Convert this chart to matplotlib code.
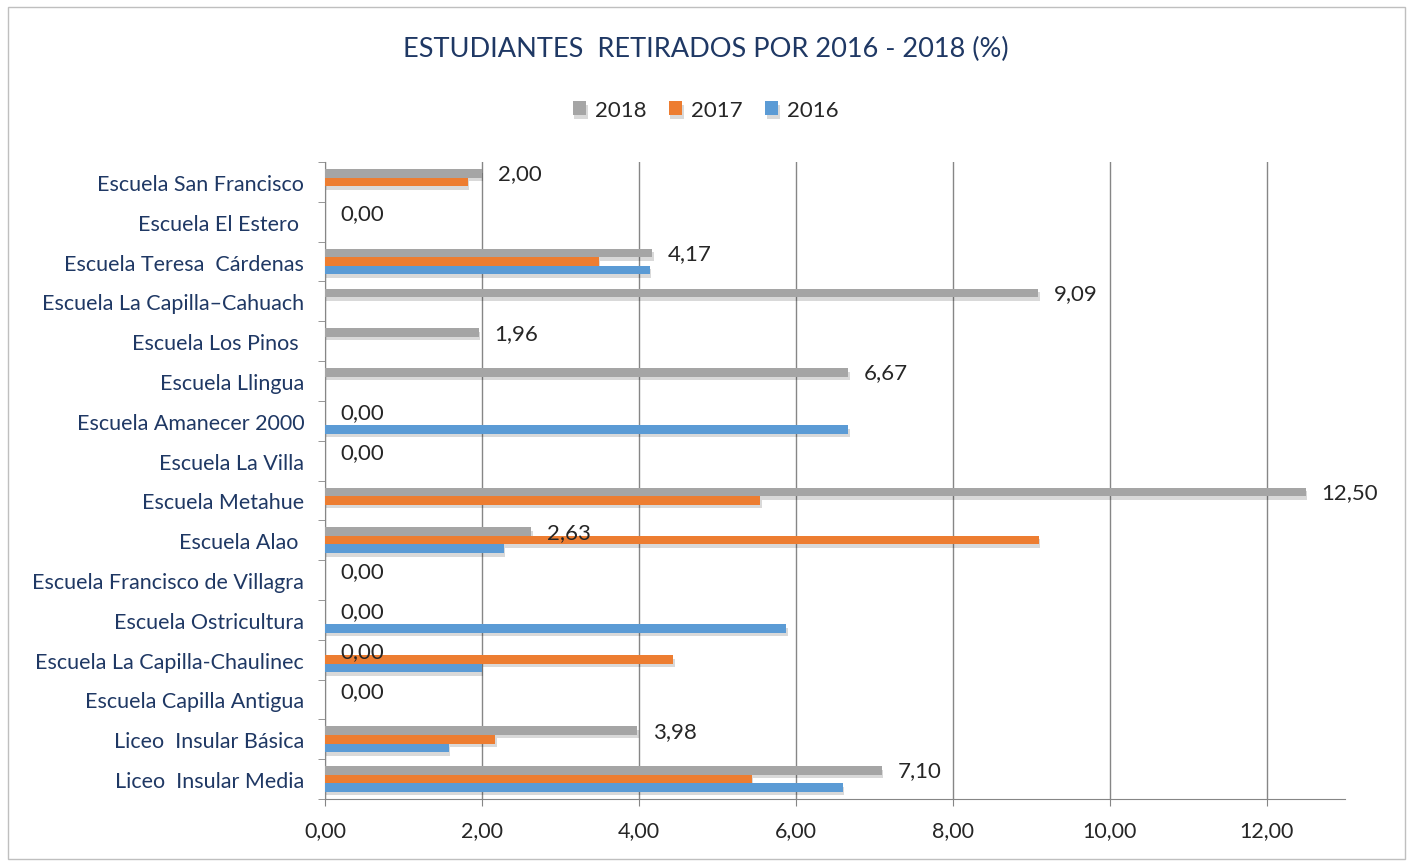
import matplotlib
matplotlib.use("Agg")
import matplotlib.pyplot as plt
import matplotlib.patheffects as pe
from matplotlib.patches import Rectangle
import numpy as np

plt.rcParams['font.family'] = ['Lato', 'DejaVu Sans']

categories = [
    "Escuela San Francisco", "Escuela El Estero ", "Escuela Teresa  Cárdenas",
    "Escuela La Capilla\u2013Cahuach", "Escuela Los Pinos ", "Escuela Llingua",
    "Escuela Amanecer 2000", "Escuela La Villa", "Escuela Metahue",
    "Escuela Alao ", "Escuela Francisco de Villagra", "Escuela Ostricultura",
    "Escuela La Capilla-Chaulinec", "Escuela Capilla Antigua",
    "Liceo  Insular Básica", "Liceo  Insular Media",
]
vals_2018 = [2.00, 0.00, 4.17, 9.09, 1.96, 6.67, 0.00, 0.00, 12.50, 2.63, 0.00, 0.00, 0.00, 0.00, 3.98, 7.10]
vals_2017 = [1.82, 0.00, 3.49, 0.00, 0.00, 0.00, 0.00, 0.00, 5.55, 9.10, 0.00, 0.00, 4.44, 0.00, 2.17, 5.44]
vals_2016 = [0.00, 0.00, 4.14, 0.00, 0.00, 0.00, 6.67, 0.00, 0.00, 2.28, 0.00, 5.88, 2.00, 0.00, 1.58, 6.60]
series = ["2018", "2017", "2016"]
colors = ["#A5A5A5", "#ED7D31", "#5B9BD5"]

navy = "#1F3864"

fig = plt.figure(figsize=(14.12, 8.62), dpi=100)
fig.patches.append(Rectangle((8 / 1412, 2 / 862), 1397 / 1412, 852 / 862,
                             transform=fig.transFigure, fill=False,
                             edgecolor="#BFBFBF", linewidth=1.0))
ax = fig.add_axes([325 / 1412, 1 - 800 / 862, 1020 / 1412, 637 / 862])

y = np.arange(len(categories))
h = 0.215
shadow = [pe.SimplePatchShadow(offset=(1.0, -2.5), shadow_rgbFace="#000000", alpha=0.15), pe.Normal()]
for k, (vals, col, name) in enumerate(zip([vals_2018, vals_2017, vals_2016], colors, series)):
    bars = ax.barh(y + (k - 1) * h, vals, height=h, color=col, label=name, zorder=3)
    for b in bars:
        b.set_path_effects(shadow)

for yi, v in zip(y, vals_2018):
    ax.text(v + 0.2, yi - h, f"{v:.2f}".replace(".", ","), va="center", ha="left",
            fontsize=16, color="#262626", zorder=5)

ax.set_xlim(0, 13)
ax.set_ylim(len(categories) - 0.5, -0.5)
ax.set_xticks(np.arange(0, 13, 2))
ax.set_xticklabels([f"{t:.2f}".replace(".", ",") for t in np.arange(0, 13, 2)],
                   fontsize=15.5, color="#262626")
ax.set_yticks(y)
ax.set_yticklabels(categories, fontsize=15.5, color=navy)
ax.set_yticks(np.arange(-0.5, len(categories), 1), minor=True)
ax.tick_params(axis="y", which="major", length=0, pad=15)
ax.tick_params(axis="y", which="minor", length=5, color="#868686", direction="out")
ax.tick_params(axis="x", length=5, color="#868686", pad=10)
ax.grid(axis="x", color="#868686", linewidth=1.0, zorder=0)
for s in ["top", "right"]:
    ax.spines[s].set_visible(False)
ax.spines["left"].set_color("#868686")
ax.spines["bottom"].set_color("#868686")

fig.text(0.5, 1 - 49 / 862, "ESTUDIANTES  RETIRADOS POR 2016 - 2018 (%)", ha="center",
         va="center", fontsize=19.5, color=navy)
fig.legend(loc="center", bbox_to_anchor=(0.5, 1 - 111 / 862), ncol=3, frameon=False,
           fontsize=16, handlelength=0.6, handleheight=0.6, handletextpad=0.4,
           columnspacing=1.0, labelcolor="#262626")

fig.savefig("out.png", dpi=100)
